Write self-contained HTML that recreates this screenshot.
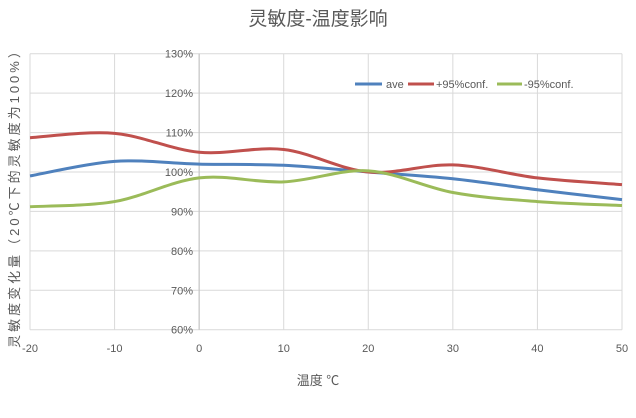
<!DOCTYPE html>
<html><head><meta charset="utf-8"><style>
body{margin:0;background:#fff;width:636px;height:413px;overflow:hidden}
svg text{font-family:"Liberation Sans","Noto Sans CJK SC",sans-serif}
</style></head><body>
<svg id="s" width="636" height="413" xmlns="http://www.w3.org/2000/svg">
<text x="318" y="25" text-anchor="middle" font-size="19" fill="#595959" font-weight="normal">灵敏度-温度影响</text>
<g id="grid" stroke="#d9d9d9" stroke-width="1"></g>
<g id="lab" font-size="11" fill="#595959"></g>
<text x="318" y="385" text-anchor="middle" font-size="13" fill="#595959">温度 ℃</text>
<text transform="translate(19,195) rotate(-90)" text-anchor="middle" font-size="13" letter-spacing="3" fill="#595959">灵敏度变化量（20℃下的灵敏度为100%）</text>
<g font-size="11" fill="#595959">
<line x1="355" y1="84" x2="382" y2="84" stroke="#4f81bd" stroke-width="3"/><text x="386" y="88">ave</text>
<line x1="408" y1="84" x2="434" y2="84" stroke="#c0504d" stroke-width="3"/><text x="436" y="88">+95%conf.</text>
<line x1="497" y1="84" x2="522" y2="84" stroke="#9bbb59" stroke-width="3"/><text x="524" y="88">-95%conf.</text>
</g>
<g id="lines" fill="none" stroke-width="3"></g>
</svg>
<script>
const X=v=>30+(v+20)*8.457, Y=p=>172-(p-100)*3.943;
let g=document.getElementById('grid'),l=document.getElementById('lab'),ns='http://www.w3.org/2000/svg';
function el(p,t,a,txt){let e=document.createElementNS(ns,t);for(let k in a)e.setAttribute(k,a[k]);if(txt!=null)e.textContent=txt;p.appendChild(e);return e;}
for(let p=60;p<=130;p+=10){el(g,'line',{x1:30,x2:622,y1:Y(p),y2:Y(p)});el(l,'text',{x:193,y:Y(p)+4,'text-anchor':'end'},p+'%');}
for(let v=-20;v<=50;v+=10){el(g,'line',{x1:X(v),x2:X(v),y1:Y(130),y2:Y(60)});el(l,'text',{x:X(v),y:352,'text-anchor':'middle'},v);}
el(g,'line',{x1:X(0),x2:X(0),y1:Y(130),y2:Y(60),stroke:'#bfbfbf'});
const xs=[-20,-10,0,10,20,30,40,50];
const S=[['#4f81bd',[99,102.7,102,101.7,100,98.3,95.5,93]],['#c0504d',[108.7,109.8,105,105.7,100,101.8,98.5,96.8]],['#9bbb59',[91.2,92.5,98.5,97.5,100.3,94.8,92.5,91.5]]];
let L=document.getElementById('lines');
S.forEach(([c,d])=>{let P=xs.map((v,i)=>[X(v),Y(d[i])]);let s='M'+P[0];for(let i=0;i<P.length-1;i++){let p0=P[Math.max(0,i-1)],p1=P[i],p2=P[i+1],p3=P[Math.min(P.length-1,i+2)];let c1=[p1[0]+(p2[0]-p0[0])/6,p1[1]+(p2[1]-p0[1])/6],c2=[p2[0]-(p3[0]-p1[0])/6,p2[1]-(p3[1]-p1[1])/6];s+=' C'+c1+' '+c2+' '+p2;}el(L,'path',{d:s,stroke:c});});
</script>
</body></html>
